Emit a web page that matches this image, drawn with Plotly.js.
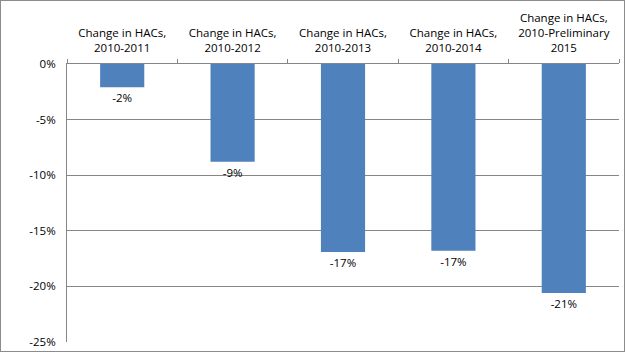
<!DOCTYPE html>
<html>
<head>
<meta charset="utf-8">
<script src="https://cdn.plot.ly/plotly-3.0.1.min.js"></script>
<style>
html,body{margin:0;padding:0;background:#fff;}
#wrap{position:relative;width:625px;height:352px;}
#chart{width:625px;height:352px;}
#frame{position:absolute;left:0;top:0;width:623px;height:350px;border:1px solid #8c8c8c;pointer-events:none;}
</style>
</head>
<body>
<div id="wrap"><div id="chart"></div><div id="frame"></div></div>
<script>
const categories = [
  "Change in HACs,<br>2010-2011",
  "Change in HACs,<br>2010-2012",
  "Change in HACs,<br>2010-2013",
  "Change in HACs,<br>2010-2014",
  "Change in HACs,<br>2010-Preliminary<br>2015"
];
const changeValues = [-0.021, -0.088, -0.169, -0.168, -0.206];
const yTickValues = [0, -0.05, -0.10, -0.15, -0.20, -0.25];
const yTickLabels = ["0%", "-5%", "-10%", "-15%", "-20%", "-25%"];

const pct = v => Math.round(v * 100) + "%";
const barLabels = changeValues.map(pct);

const font = {family: "Open Sans, Liberation Sans, sans-serif", size: 11.5, color: "#000"};

const trace = {
  type: "bar",
  x: categories,
  y: changeValues,
  marker: {color: "#4F81BD"},
  text: barLabels,
  texttemplate: "%{text}",
  textposition: "outside",
  cliponaxis: false,
  textfont: font,
  hoverinfo: "none"
};

const layout = {
  width: 625, height: 352,
  margin: {l: 67, r: 6, t: 64, b: 10},
  paper_bgcolor: "#fff", plot_bgcolor: "#fff",
  showlegend: false,
  bargap: 0.6,
  font: font,
  xaxis: {
    side: "top",
    type: "category",
    showline: true, linecolor: "#868686", linewidth: 1,
    ticks: "outside", tickson: "boundaries", ticklen: 4, tickcolor: "#868686",
    ticklabelstandoff: 6,
    showgrid: false,
    tickfont: font,
    fixedrange: true
  },
  yaxis: {
    range: [-0.25, 0],
    tickvals: yTickValues,
    ticktext: yTickLabels,
    showgrid: true, gridcolor: "#868686", gridwidth: 1,
    showline: true, linecolor: "#868686", linewidth: 1,
    zeroline: false,
    ticks: "", ticklen: 0,
    ticklabelstandoff: 8,
    tickfont: font,
    automargin: false,
    fixedrange: true
  }
};

Plotly.newPlot("chart", [trace], layout, {displayModeBar: false, staticPlot: true});
</script>
</body>
</html>
